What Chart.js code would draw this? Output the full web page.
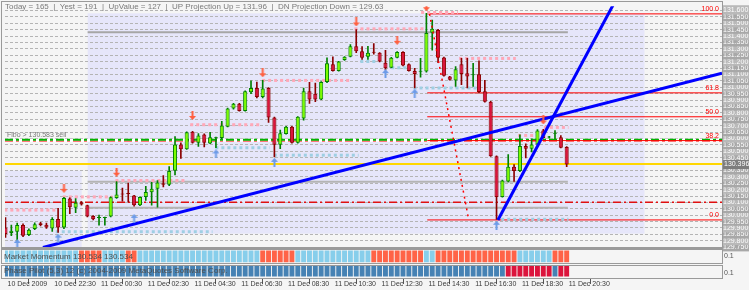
<!DOCTYPE html>
<html>
<head>
<meta charset="utf-8">
<title>USDJPY M15</title>
<script src="https://cdn.jsdelivr.net/npm/chart.js@4.4.1/dist/chart.umd.min.js"></script>
<style>
  html, body { margin: 0; padding: 0; background: #f5f5f5; overflow: hidden; }
  #wrap { width: 749px; height: 290px; position: relative; }
</style>
</head>
<body>
<div id="wrap"><canvas id="chart"></canvas></div>
<script>
// 15 minute candles, 10 Dec 20:30 -> 11 Dec 20:30
const timeLabels = ['10 Dec 2009', '10 Dec 22:30', '11 Dec 00:30', '11 Dec 02:30', '11 Dec 04:30', '11 Dec 06:30',
  '11 Dec 08:30', '11 Dec 10:30', '11 Dec 12:30', '11 Dec 14:30', '11 Dec 16:30', '11 Dec 18:30', '11 Dec 20:30'];
const timeTicks = [0, 8, 16, 24, 32, 40, 48, 56, 64, 72, 80, 88, 96];

const opens = [
  129.904, 129.861, 129.871, 129.923, 129.846, 129.892, 129.938, 129.925, 129.897, 129.971,
  129.904, 130.130, 130.058, 130.102, 130.077, 129.994, 129.979, 129.979, 129.989, 130.135,
  130.169, 130.173, 130.153, 130.077, 130.143, 130.179, 130.207, 130.250, 130.238, 130.348,
  130.553, 130.515, 130.653, 130.566, 130.630, 130.561, 130.602, 130.604, 130.692, 130.833,
  130.871, 130.815, 130.961, 130.994, 130.923, 130.994, 130.763, 130.550, 130.635, 130.692,
  130.566, 130.756, 130.969, 130.948, 130.904, 131.040, 131.179, 131.127, 131.212, 131.238,
  131.320, 131.281, 131.238, 131.273, 131.269, 131.192, 131.153, 131.230, 131.276, 131.179,
  131.127, 131.121, 131.123, 131.425, 131.448, 131.233, 131.084, 131.053, 131.179, 131.110,
  131.094, 131.102, 130.969, 130.887, 130.461, 130.143, 130.263, 130.379, 130.346, 130.540,
  130.520, 130.553, 130.661, 130.608, 130.636, 130.610, 130.533];
const highs = [
  129.981, 129.923, 129.938, 129.933, 129.894, 129.940, 129.944, 129.938, 129.981, 130.053,
  130.140, 130.136, 130.130, 130.106, 130.079, 129.998, 130.000, 129.986, 130.144, 130.263,
  130.212, 130.250, 130.156, 130.144, 130.225, 130.256, 130.271, 130.310, 130.379, 130.615,
  130.566, 130.652, 130.656, 130.638, 130.635, 130.648, 130.610, 130.733, 130.836, 130.875,
  130.875, 130.971, 131.050, 131.040, 131.053, 130.998, 130.767, 130.666, 130.694, 130.694,
  130.771, 130.994, 131.038, 131.033, 131.044, 131.230, 131.238, 131.202, 131.240, 131.333,
  131.450, 131.317, 131.320, 131.340, 131.271, 131.289, 131.233, 131.279, 131.279, 131.183,
  131.148, 131.225, 131.577, 131.525, 131.452, 131.236, 131.086, 131.161, 131.225, 131.225,
  131.187, 131.207, 131.053, 130.890, 130.463, 130.275, 130.473, 130.396, 130.627, 130.558,
  130.597, 130.669, 130.671, 130.617, 130.661, 130.623, 130.537];
const lows = [
  129.827, 129.840, 129.794, 129.833, 129.840, 129.887, 129.917, 129.897, 129.873, 129.866,
  129.894, 130.012, 130.020, 130.079, 129.987, 129.963, 129.923, 129.923, 129.986, 130.132,
  130.110, 130.104, 130.071, 130.075, 130.115, 130.079, 130.063, 130.220, 130.230, 130.315,
  130.443, 130.513, 130.563, 130.538, 130.533, 130.558, 130.527, 130.596, 130.690, 130.829,
  130.813, 130.813, 130.950, 130.917, 130.917, 130.725, 130.456, 130.520, 130.633, 130.563,
  130.563, 130.743, 130.873, 130.887, 130.902, 131.036, 131.125, 131.125, 131.210, 131.236,
  131.269, 131.217, 131.217, 131.258, 131.198, 131.135, 131.152, 131.229, 131.167, 131.125,
  130.994, 131.079, 131.117, 131.289, 131.192, 131.086, 131.056, 131.007, 131.020, 130.994,
  131.007, 130.956, 130.883, 130.460, 129.967, 130.140, 130.260, 130.263, 130.340, 130.448,
  130.494, 130.552, 130.602, 130.602, 130.596, 130.525, 130.379];
const closes = [
  129.853, 129.879, 129.923, 129.840, 129.887, 129.930, 129.923, 129.904, 129.971, 129.904,
  130.135, 130.063, 130.097, 130.084, 129.989, 129.969, 129.983, 129.983, 130.140, 130.161,
  130.161, 130.166, 130.077, 130.143, 130.181, 130.207, 130.256, 130.238, 130.346, 130.553,
  130.515, 130.648, 130.566, 130.623, 130.566, 130.610, 130.606, 130.700, 130.833, 130.871,
  130.815, 130.969, 130.994, 130.923, 130.989, 130.763, 130.550, 130.640, 130.692, 130.566,
  130.769, 130.969, 130.904, 130.904, 131.040, 131.187, 131.127, 131.200, 131.238, 131.320,
  131.281, 131.230, 131.269, 131.269, 131.200, 131.148, 131.230, 131.276, 131.169, 131.127,
  131.104, 131.124, 131.423, 131.456, 131.230, 131.089, 131.058, 131.140, 131.104, 131.084,
  131.098, 130.963, 130.887, 130.461, 130.143, 130.271, 130.379, 130.346, 130.540, 130.520,
  130.553, 130.661, 130.604, 130.611, 130.640, 130.527, 130.396];

// indicator strips, 1 = up colour, 0 = down colour
const momentum = [
  1, 1, 1, 1, 1, 1, 1, 1, 1, 1, 1, 1, 1, 0, 0, 0, 0, 1, 1, 1,
  1, 0, 0, 1, 1, 1, 1, 1, 1, 1, 1, 1, 1, 1, 1, 1, 1, 1, 1, 1,
  1, 1, 1, 1, 0, 0, 0, 0, 0, 0, 1, 1, 1, 1, 1, 1, 1, 1, 1, 1,
  1, 1, 1, 0, 0, 0, 0, 0, 0, 0, 0, 0, 1, 1, 0, 0, 0, 0, 0, 0,
  0, 0, 0, 0, 0, 0, 0, 0, 1, 1, 1, 1, 1, 1, 0, 0, 0];
const phase = [
  1, 1, 1, 1, 1, 1, 1, 1, 1, 1, 1, 1, 1, 1, 1, 1, 1, 1, 1, 1,
  1, 1, 1, 1, 1, 1, 1, 1, 1, 1, 1, 1, 1, 1, 1, 1, 1, 1, 1, 1,
  1, 1, 1, 1, 1, 1, 1, 1, 1, 1, 1, 1, 1, 1, 1, 1, 1, 1, 1, 1,
  1, 1, 1, 1, 1, 1, 1, 1, 1, 1, 1, 1, 1, 1, 1, 1, 1, 1, 1, 1,
  1, 1, 1, 1, 1, 1, 0, 0, 0, 0, 0, 0, 0, 0, 1, 0, 0];
const stripTickLabels = ['0.1', '0.1'];

const priceTicks = [129.75, 129.80, 129.85, 129.90, 129.95, 130.00, 130.05, 130.10, 130.15, 130.20,
  130.25, 130.30, 130.35, 130.40, 130.45, 130.50, 130.55, 130.60, 130.65, 130.70, 130.75, 130.80,
  130.85, 130.90, 130.95, 131.00, 131.05, 131.10, 131.15, 131.20, 131.25, 131.30, 131.35, 131.40,
  131.45, 131.50, 131.55, 131.60];

// fibo retracement
const fibPrices = [131.573, 130.956, 130.769, 130.583, 129.963];
const fibNames = ['100.0', '61.8', '50.0', '38.2', '0.0'];
const fibFrom = 72.15;
const fibDiagX = [72.54, 79.25];
const fibDiagY = [131.573, 129.963];

// fractal levels (pink = resistance, light blue = support)
const resStart = [-0.2, 9.8, 18.8, 31.6, 43.9, 59.7, 71.1, 77.6, 87.7, 92.1];
const resEnd = [8.9, 18.3, 31.1, 43.4, 59.2, 71.5, 77.4, 87.3, 90.4, 96.3];
const resPrice = [130.040, 130.143, 130.271, 130.707, 131.053, 131.456, 131.584, 131.225, 130.623, 130.686];
const supStart = [8.6, 35.9, 45.9, 60.7, 66.0, 69.8, 84.8];
const supEnd = [35.4, 45.2, 60.4, 63.5, 68.9, 81.3, 96.3];
const supPrice = [129.871, 130.527, 130.469, 131.200, 131.153, 130.994, 129.969];

// fractal arrows
const downIdx = [10, 19, 32, 44, 60, 67, 72, 92];
const downPrice = [130.210, 130.336, 130.779, 131.113, 131.510, 131.366, 131.629, 130.744];
const upIdx = [2, 9, 22, 36, 46, 65, 70, 84];
const upPrice = [129.779, 129.821, 129.975, 130.479, 130.413, 131.106, 130.952, 129.921];

// trend lines
const trend1X = [6.4, 122.57], trend1Y = [129.748, 131.110];
const trend2X = [84.24, 106], trend2Y = [129.963, 131.818];

// horizontal objects
const bidLine = 130.40;
const greenLine = 130.589, greenRedLine = 130.579, greenBackLine = 130.585;
const redDashLine = 130.102;
const grayLines = [131.429, 130.261, 130.058];
const grayFrom = 14.05, grayTo = 96.2;

// background rectangles
const rectX0 = [14.05, -1], rectX1 = [109.3, 13.03];
const rectTop = [131.577, 130.348], rectBottom = [129.856, 129.70];

const xMin = -0.085, xMax = 122.57;
const N = opens.length;
const FONT = '"Liberation Sans", Arial, sans-serif';
Chart.defaults.font.family = FONT;

function arrowImg(color, up) {
  const c = document.createElement('canvas');
  c.width = 7; c.height = 9;
  const g = c.getContext('2d');
  g.fillStyle = color;
  g.beginPath();
  if (up) {
    g.moveTo(3.5, 0); g.lineTo(7, 4); g.lineTo(4.5, 4); g.lineTo(4.5, 9);
    g.lineTo(2.5, 9); g.lineTo(2.5, 4); g.lineTo(0, 4);
  } else {
    g.moveTo(2.5, 0); g.lineTo(4.5, 0); g.lineTo(4.5, 5); g.lineTo(7, 5);
    g.lineTo(3.5, 9); g.lineTo(0, 5); g.lineTo(2.5, 5);
  }
  g.closePath();
  g.fill();
  return c;
}

function seg(x0, x1, price, color, width, dash, order) {
  return {
    type: 'line', yAxisID: 'y',
    data: [{x: x0, y: price}, {x: x1, y: price}],
    borderColor: color, borderWidth: width, borderDash: dash || [],
    pointRadius: 0, fill: false, order: order
  };
}

const bull = opens.map((o, i) => closes[i] >= o);
const datasets = [];

datasets.push({
  type: 'line', yAxisID: 'y', showLine: false, order: 0,
  data: downIdx.map((x, k) => ({x: x, y: downPrice[k]})),
  pointStyle: arrowImg('#ff5f3f', false), pointRadius: 3
});
datasets.push({
  type: 'line', yAxisID: 'y', showLine: false, order: 0,
  data: upIdx.map((x, k) => ({x: x, y: upPrice[k]})),
  pointStyle: arrowImg('#6d9be8', true), pointRadius: 3
});

datasets.push({
  type: 'line', yAxisID: 'y', order: 1, pointRadius: 0, borderColor: '#0000ff', borderWidth: 3,
  data: trend1X.map((x, k) => ({x: x, y: trend1Y[k]}))
});
datasets.push({
  type: 'line', yAxisID: 'y', order: 1, pointRadius: 0, borderColor: '#0000ff', borderWidth: 3,
  data: trend2X.map((x, k) => ({x: x, y: trend2Y[k]}))
});
datasets.push({
  type: 'line', yAxisID: 'y', order: 2, pointRadius: 0, borderColor: '#ff0000', borderWidth: 1.5,
  borderDash: [2, 4], data: fibDiagX.map((x, k) => ({x: x, y: fibDiagY[k]}))
});

// candles
datasets.push({
  type: 'bar', yAxisID: 'y', order: 3, grouped: false,
  data: opens.map((o, i) => ({x: i, y: [o, closes[i]]})),
  backgroundColor: bull.map(b => b ? '#7cfc00' : '#dc143c'),
  borderColor: bull.map(b => b ? '#008000' : '#8b0000'),
  borderWidth: 1, borderSkipped: false, minBarLength: 1,
  barPercentage: 0.7, categoryPercentage: 1
});
datasets.push({
  type: 'bar', yAxisID: 'y', order: 4, grouped: false,
  data: lows.map((l, i) => ({x: i, y: [l, highs[i]]})),
  backgroundColor: bull.map(b => b ? '#008000' : '#8b0000'),
  barThickness: 1
});

resStart.forEach((s, k) => datasets.push(seg(s, resEnd[k], resPrice[k], '#ffa8b8', 3, [3, 3], 5)));
supStart.forEach((s, k) => datasets.push(seg(s, supEnd[k], supPrice[k], '#9fcfe3', 3, [3, 3], 5)));

fibPrices.forEach(p => datasets.push(seg(fibFrom, xMax, p, '#ff0000', 1, [], 6)));

datasets.push(seg(xMin, xMax, bidLine, '#ffd700', 2, [], 7));
datasets.push(seg(xMin, xMax, greenLine, '#00b400', 2, [8, 3, 3, 3], 7));
datasets.push(seg(xMin, xMax, greenRedLine, '#ff2020', 1, [8, 3, 3, 3], 7));
datasets.push(seg(xMin, xMax, greenBackLine, '#ffffff', 3, [], 8));
datasets.push(seg(xMin, xMax, redDashLine, '#e01010', 1.5, [8, 3, 2, 3], 7));
grayLines.forEach((p, k) => datasets.push(seg(grayFrom, grayTo, p, k === 0 ? '#a6a6a6' : '#b4b4b4', 2, [], 7)));

// strips
datasets.push({
  type: 'bar', yAxisID: 'ys1', order: 9, grouped: false,
  data: momentum.map((m, i) => ({x: i, y: [1.5, 13.5]})),
  backgroundColor: momentum.map(m => m ? '#87ceeb' : '#ff6347'),
  barPercentage: 1, categoryPercentage: 0.84
});
datasets.push({
  type: 'bar', yAxisID: 'ys2', order: 9, grouped: false,
  data: phase.map((m, i) => ({x: i, y: [1.5, 12.5]})),
  backgroundColor: phase.map(m => m ? '#4682b4' : '#dc143c'),
  barPercentage: 1, categoryPercentage: 0.84
});

const backPlugin = {
  id: 'back',
  beforeDraw(chart) {
    const ctx = chart.ctx, xs = chart.scales.x, ys = chart.scales.y;
    ctx.save();
    ctx.fillStyle = '#f5f5f5';
    ctx.fillRect(0, 0, chart.width, chart.height);
    ctx.beginPath();
    ctx.rect(xs.left, ys.top, xs.right - xs.left, ys.bottom - ys.top);
    ctx.clip();
    ctx.fillStyle = '#e6e6fa';
    rectX0.forEach((x0, k) => {
      const l = xs.getPixelForValue(x0), r = xs.getPixelForValue(rectX1[k]);
      const t = ys.getPixelForValue(rectTop[k]), b = ys.getPixelForValue(rectBottom[k]);
      ctx.fillRect(l, t, r - l, b - t);
    });
    ctx.restore();
  },
  afterDraw(chart) {
    const ctx = chart.ctx, xs = chart.scales.x, ys = chart.scales.y;
    const s1 = chart.scales.ys1, s2 = chart.scales.ys2;
    const R = xs.right + 0.5;
    ctx.save();
    ctx.strokeStyle = '#9a9a9a';
    ctx.lineWidth = 1;
    ctx.strokeRect(1.5, 1.5, R - 1.5, ys.bottom - 1.5);
    ctx.lineWidth = 2;
    ctx.beginPath(); ctx.moveTo(1, ys.bottom); ctx.lineTo(R, ys.bottom); ctx.stroke();
    ctx.lineWidth = 1;
    [[s1, 0.5, 14.5], [s2, 0.5, 13.5]].forEach(([s, a, b]) => {
      const t = Math.round(s.getPixelForValue(b)) + 0.5, bt = Math.round(s.getPixelForValue(a)) + 0.5;
      ctx.strokeRect(1.5, t, R - 1.5, bt - t);
    });

    // fibo level captions
    ctx.fillStyle = '#ff0000';
    ctx.font = '7px ' + FONT;
    ctx.textAlign = 'right';
    ctx.textBaseline = 'bottom';
    fibPrices.forEach((p, k) => ctx.fillText(fibNames[k], xs.right - 3, ys.getPixelForValue(p) - 1));

    // texts
    ctx.textAlign = 'left';
    ctx.textBaseline = 'middle';
    ctx.fillStyle = '#7a7a7a';
    ctx.font = '8px ' + FONT;
    ctx.fillText('Today = 165  |  Yest = 191  |  UpValue = 127  |  UP Projection Up = 131.96  |  DN Projection Down = 129.63', 5, 6.5);
    ctx.font = '7px ' + FONT;
    ctx.fillText('Fibo > 130.583 sell', 7, ys.getPixelForValue(greenLine) - 5);
    ctx.fillStyle = '#4f4f4f';
    ctx.font = '8px ' + FONT;
    ctx.fillText('Market Momentum 130.534 130.534', 4, s1.getPixelForValue(7.5));
    ctx.fillText('Phase Pilot (5,3) 12 (c) 2004-2009 MetaQuotes Software Corp.', 4, s2.getPixelForValue(7));

    // current price tag
    ctx.font = '7px ' + FONT;
    const yp = ys.getPixelForValue(closes[N - 1]);
    ctx.fillStyle = '#7d7d7d';
    ctx.fillRect(xs.right + 1, yp - 4.5, 27, 9);
    ctx.fillStyle = '#ffffff';
    ctx.fillText(closes[N - 1].toFixed(3), xs.right + 2, yp);
    ctx.restore();
  }
};

new Chart(document.getElementById('chart'), {
  type: 'bar',
  data: {datasets: datasets},
  options: {
    responsive: true,
    maintainAspectRatio: false,
    devicePixelRatio: 1,
    animation: false,
    events: [],
    layout: {padding: {left: 2, top: 2, right: 0, bottom: 0}},
    plugins: {legend: {display: false}, tooltip: {enabled: false}},
    scales: {
      x: {
        type: 'linear', min: xMin, max: xMax, offset: false,
        grid: {display: true, drawOnChartArea: false, drawTicks: true, tickLength: 6, color: '#555555'},
        border: {display: false},
        afterBuildTicks: s => { s.ticks = timeTicks.map(v => ({value: v})); },
        afterFit: s => { s.height = 12; },
        ticks: {
          autoSkip: false, maxRotation: 0, align: 'start', padding: -4, labelOffset: 2,
          color: '#3a3a3a', font: {size: 7},
          callback: v => timeLabels[timeTicks.indexOf(v)]
        }
      },
      y: {
        type: 'linear', position: 'right', stack: 'pane', stackWeight: 245.5,
        min: 129.744, max: 131.633,
        grid: {color: '#b4b4b4', drawTicks: false},
        border: {display: false, dash: [3, 2]},
        afterBuildTicks: s => { s.ticks = priceTicks.map(v => ({value: v})); },
        afterFit: s => { s.width = 27; },
        ticks: {
          autoSkip: false, padding: 1, crossAlign: 'near', color: '#ffffff', font: {size: 7},
          showLabelBackdrop: true,
          backdropColor: c => (c.index % 2 ? '#b9b9b9' : '#a8a8a8'),
          backdropPadding: {top: 1, bottom: 0, left: 1, right: 4},
          callback: v => v.toFixed(3)
        }
      },
      ys1: {
        type: 'linear', position: 'right', stack: 'pane', stackWeight: 16, min: 0, max: 16,
        grid: {display: false, drawTicks: false}, border: {display: false},
        afterBuildTicks: s => { s.ticks = [{value: 8}]; },
        afterFit: s => { s.width = 27; },
        ticks: {padding: 2, crossAlign: 'near', color: '#555555', font: {size: 7}, callback: () => stripTickLabels[0]}
      },
      ys2: {
        type: 'linear', position: 'right', stack: 'pane', stackWeight: 14.5, min: 0, max: 14.5,
        grid: {display: false, drawTicks: false}, border: {display: false},
        afterBuildTicks: s => { s.ticks = [{value: 5}]; },
        afterFit: s => { s.width = 27; },
        ticks: {padding: 2, crossAlign: 'near', color: '#555555', font: {size: 7}, callback: () => stripTickLabels[1]}
      }
    }
  },
  plugins: [backPlugin]
});
</script>
</body>
</html>
